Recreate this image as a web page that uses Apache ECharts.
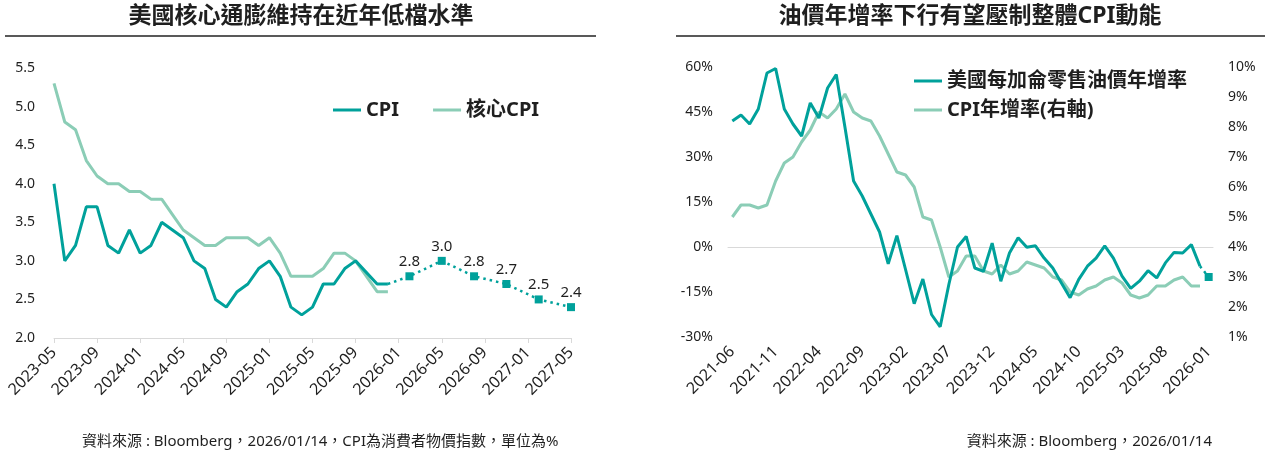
<!DOCTYPE html>
<html>
<head>
<meta charset="utf-8">
<script src="https://cdn.jsdelivr.net/npm/echarts@6/dist/echarts.min.js"></script>
<style>
    html, body { margin: 0; padding: 0; background: #fff; }
    #main { width: 1271px; height: 454px; }
</style>
</head>
<body>
<div id="main"></div>
<script>
    // ---- left chart: CPI / core CPI, monthly from 2023-05 to 2027-05
    var cpiStart = '2023-05';
    var cpiCount = 49;
    var cpi = [4.0, 3.0, 3.2, 3.7, 3.7, 3.2, 3.1, 3.4, 3.1, 3.2, 3.5, 3.4, 3.3, 3.0, 2.9, 2.5, 2.4, 2.6, 2.7, 2.9,
               3.0, 2.8, 2.4, 2.3, 2.4, 2.7, 2.7, 2.9, 3.0, null, 2.7, 2.7];
    var coreCpi = [5.3, 4.8, 4.7, 4.3, 4.1, 4.0, 4.0, 3.9, 3.9, 3.8, 3.8, 3.6, 3.4, 3.3, 3.2, 3.2, 3.3, 3.3, 3.3, 3.2,
                   3.3, 3.1, 2.8, 2.8, 2.8, 2.9, 3.1, 3.1, 3.0, null, 2.6, 2.6];
    var cpiFcMonths = ['2026-02', '2026-05', '2026-08', '2026-11', '2027-02', '2027-05'];
    var cpiFcValues = [2.8, 3.0, 2.8, 2.7, 2.5, 2.4];

    // ---- right chart: gasoline price yoy vs CPI yoy, monthly from 2021-06 to 2026-01
    var oilStart = '2021-06';
    var oilCount = 56;
    var oilYoy = [42, 44, 41, 46, 58, 59.5, 46, 41, 37, 48,
                  43, 53, 57.5, 40, 22, 17, 11, 5, -5.6, 3.8,
                  -7.5, -18.9, -10.7, -22.5, -26.6, -12.5, 0, 3.5, -7, -8.1,
                  1.3, -11.4, -2, 3.1, -0.1, 0.4, -3.7, -7, -12, -16.9,
                  -10.8, -6.4, -3.7, 0.4, -3.7, -9.7, -13.8, -11.4, -7.9, -10.3,
                  -5.3, -1.8, -2, 0.8, -6.4];
    var cpiYoy = [5.0, 5.4, 5.4, 5.3, 5.4, 6.2, 6.8, 7.0, 7.5, 7.9,
                  8.5, 8.3, 8.6, 9.1, 8.5, 8.3, 8.2, 7.7, 7.1, 6.5,
                  6.4, 6.0, 5.0, 4.9, 4.0, 3.0, 3.2, 3.7, 3.7, 3.2,
                  3.1, 3.4, 3.1, 3.2, 3.5, 3.4, 3.3, 3.0, 2.9, 2.5,
                  2.4, 2.6, 2.7, 2.9, 3.0, 2.8, 2.4, 2.3, 2.4, 2.7,
                  2.7, 2.9, 3.0, 2.7, 2.7];
    var oilFcMonths = ['2026-01'];
    var oilFcValues = [-10];

    var DARK = '#00A19B';
    var LIGHT = '#8BCDB6';
    var FONT = "'Noto Sans', 'Noto Sans CJK TC', sans-serif";
    var TXT = '#1f1f1f';

    function $extend(base, extra) {
        var out = {};
        for (var k in base) out[k] = base[k];
        for (var j in extra) out[j] = extra[j];
        return out;
    }

    function monthRange(start, count) {
        var y = parseInt(start.slice(0, 4), 10);
        var m = parseInt(start.slice(5, 7), 10);
        var out = [];
        for (var i = 0; i < count; i++) {
            out.push(y + '-' + (m < 10 ? '0' + m : m));
            m++;
            if (m > 12) { m = 1; y++; }
        }
        return out;
    }

    // dotted forecast line starts at the last real value and runs through the forecast points
    function forecastData(months, actual, fcMonths, fcValues) {
        var last = -1;
        actual.forEach(function(v, i) { if (v !== null) last = i; });
        return months.map(function(m, i) {
            var k = fcMonths.indexOf(m);
            if (k >= 0) return fcValues[k];
            if (i === last) return {value: actual[i], symbol: 'none', label: {show: false}};
            return null;
        });
    }

    var cpiMonths = monthRange(cpiStart, cpiCount);
    var oilMonths = monthRange(oilStart, oilCount);

    var yLabelBase = {color: TXT, fontSize: 14, fontFamily: FONT};
    var xLabelBase = {color: TXT, fontSize: 16, fontFamily: FONT, rotate: 45, margin: 12};

    var chart = echarts.init(document.getElementById('main'), null, {renderer: 'canvas'});
    chart.setOption({
        animation: false,
        textStyle: {fontFamily: FONT},
        grid: [
            {left: 54, top: 68, width: 517, height: 270},
            {left: 728, top: 67, width: 485, height: 270}
        ],
        legend: [{
            data: ['CPI', '核心CPI'],
            left: 328, top: 95,
            icon: 'rect', itemWidth: 28, itemHeight: 3, itemGap: 34,
            textStyle: {fontSize: 20, fontWeight: 'bold', color: TXT, fontFamily: FONT}
        }, {
            data: ['美國每加侖零售油價年增率', 'CPI年增率(右軸)'],
            orient: 'vertical',
            left: 909, top: 66,
            icon: 'rect', itemWidth: 28, itemHeight: 3, itemGap: 9,
            textStyle: {fontSize: 20, fontWeight: 'bold', color: TXT, fontFamily: FONT}
        }],
        xAxis: [{
            gridIndex: 0,
            type: 'category',
            data: cpiMonths,
            boundaryGap: false,
            axisLine: {lineStyle: {color: '#d9d9d9'}},
            axisTick: {interval: 3, length: 5, lineStyle: {color: '#d9d9d9'}},
            axisLabel: $extend(xLabelBase, {interval: 3})
        }, {
            gridIndex: 1,
            type: 'category',
            data: oilMonths,
            position: 'bottom',
            axisLine: {show: false, onZero: false},
            axisTick: {show: false},
            axisLabel: $extend(xLabelBase, {interval: 4})
        }, {
            gridIndex: 1,
            type: 'category',
            data: oilMonths,
            position: 'bottom',
            axisLine: {onZero: true, onZeroAxisIndex: 1, lineStyle: {color: '#d9d9d9'}},
            axisTick: {interval: 4, length: 5, lineStyle: {color: '#d9d9d9'}},
            axisLabel: {show: false}
        }],
        yAxis: [{
            gridIndex: 0,
            type: 'value',
            min: 2, max: 5.5, interval: 0.5,
            splitLine: {show: false},
            axisLabel: $extend(yLabelBase, {margin: 19, formatter: function(v) { return v.toFixed(1); }})
        }, {
            gridIndex: 1,
            type: 'value',
            min: -30, max: 60, interval: 15,
            splitLine: {show: false},
            axisLabel: $extend(yLabelBase, {margin: 15, formatter: '{value}%'})
        }, {
            gridIndex: 1,
            type: 'value',
            position: 'right',
            min: 1, max: 10, interval: 1,
            splitLine: {show: false},
            axisLabel: $extend(yLabelBase, {margin: 15, formatter: '{value}%'})
        }],
        series: [{
            name: '核心CPI',
            type: 'line',
            xAxisIndex: 0, yAxisIndex: 0,
            data: coreCpi,
            connectNulls: true,
            showSymbol: false,
            color: LIGHT,
            lineStyle: {width: 3}
        }, {
            name: 'CPI',
            type: 'line',
            xAxisIndex: 0, yAxisIndex: 0,
            data: cpi,
            connectNulls: true,
            showSymbol: false,
            color: DARK,
            lineStyle: {width: 3}
        }, {
            name: 'CPI預測',
            type: 'line',
            xAxisIndex: 0, yAxisIndex: 0,
            data: forecastData(cpiMonths, cpi, cpiFcMonths, cpiFcValues),
            connectNulls: true,
            showAllSymbol: true,
            symbol: 'rect', symbolSize: 8,
            color: DARK,
            lineStyle: {width: 2.5, type: [2.5, 4]},
            label: {
                show: true, position: 'top', distance: 3,
                color: TXT, fontSize: 15, fontFamily: FONT,
                formatter: function(p) { return Number(p.value).toFixed(1); }
            }
        }, {
            name: 'CPI年增率(右軸)',
            type: 'line',
            xAxisIndex: 1, yAxisIndex: 2,
            data: cpiYoy,
            showSymbol: false,
            color: LIGHT,
            lineStyle: {width: 3}
        }, {
            name: '美國每加侖零售油價年增率',
            type: 'line',
            xAxisIndex: 1, yAxisIndex: 1,
            data: oilYoy,
            showSymbol: false,
            color: DARK,
            lineStyle: {width: 3}
        }, {
            name: '油價預測',
            type: 'line',
            xAxisIndex: 1, yAxisIndex: 1,
            data: forecastData(oilMonths, oilYoy, oilFcMonths, oilFcValues),
            connectNulls: true,
            showAllSymbol: true,
            symbol: 'rect', symbolSize: 8,
            color: DARK,
            lineStyle: {width: 2.5, type: [2.5, 4]}
        }],
        graphic: [
            {type: 'text', x: 301, y: 16, style: {text: '美國核心通膨維持在近年低檔水準', font: 'bold 23px ' + FONT, fill: TXT, textAlign: 'center', textVerticalAlign: 'middle'}},
            {type: 'line', shape: {x1: 5, y1: 36, x2: 596, y2: 36}, style: {stroke: '#222', lineWidth: 1.5}},
            {type: 'text', x: 970, y: 16, style: {text: '油價年增率下行有望壓制整體CPI動能', font: 'bold 23px ' + FONT, fill: TXT, textAlign: 'center', textVerticalAlign: 'middle'}},
            {type: 'line', shape: {x1: 676, y1: 36, x2: 1265, y2: 36}, style: {stroke: '#222', lineWidth: 1.5}},
            {type: 'text', x: 82, y: 442, style: {text: '資料來源 : Bloomberg，2026/01/14，CPI為消費者物價指數，單位為%', font: '15px ' + FONT, fill: TXT, textAlign: 'left', textVerticalAlign: 'middle'}},
            {type: 'text', x: 1212, y: 442, style: {text: '資料來源 : Bloomberg，2026/01/14', font: '15px ' + FONT, fill: TXT, textAlign: 'right', textVerticalAlign: 'middle'}}
        ]
    });
</script>
</body>
</html>
